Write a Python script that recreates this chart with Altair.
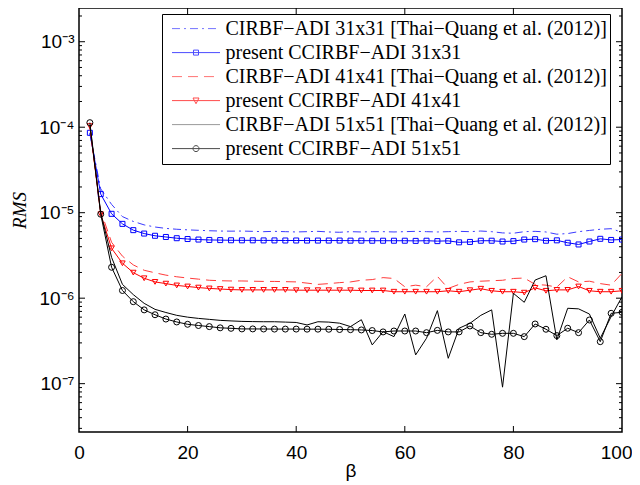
import altair as alt
import pandas as pd

# ---------------- data ----------------
beta = [2, 4, 6, 8, 10, 12, 14, 16, 18, 20,
        22, 24, 26, 28, 30, 32, 34, 36, 38, 40,
        42, 44, 46, 48, 50, 52, 54, 56, 58, 60,
        62, 64, 66, 68, 70, 72, 74, 76, 78, 80,
        82, 84, 86, 88, 90, 92, 94, 96, 98, 100]

# values in units of 1e-6
cirbf_31_e6 = [84, 19, 12.5, 9.0, 7.9, 7.2, 6.8, 6.55, 6.4, 6.3,
               6.22, 6.15, 6.1, 6.08, 6.1, 6.05, 6.0, 6.05, 6.0, 5.95,
               6.0, 6.05, 5.95, 5.9, 6.0, 5.95, 6.0, 6.0, 5.95, 6.0,
               6.05, 6.0, 5.95, 6.0, 6.05, 6.0, 6.1, 6.0, 5.8, 5.75,
               6.0, 6.05, 5.95, 5.6, 5.7, 6.0, 6.2, 6.4, 6.5, 5.9]
present_31_e6 = [86, 16.5, 9.7, 7.4, 6.25, 5.7, 5.37, 5.2, 5.03, 4.92,
                 4.85, 4.8, 4.78, 4.76, 4.75, 4.75, 4.74, 4.74, 4.73, 4.73,
                 4.72, 4.72, 4.72, 4.72, 4.71, 4.71, 4.7, 4.7, 4.7, 4.7,
                 4.68, 4.7, 4.65, 4.68, 4.5, 4.55, 4.7, 4.7, 4.6, 4.65,
                 4.85, 4.9, 4.7, 4.75, 4.45, 4.25, 4.6, 4.95, 4.8, 4.85]
cirbf_41_e6 = [100, 10.5, 4.5, 3.1, 2.45, 2.12, 1.98, 1.86, 1.78, 1.72,
               1.67, 1.62, 1.60, 1.59, 1.59, 1.58, 1.57, 1.57, 1.56, 1.55,
               1.50, 1.45, 1.48, 1.52, 1.55, 1.62, 1.65, 1.74, 1.70, 1.36,
               1.42, 1.36, 1.80, 1.30, 1.45, 1.55, 1.58, 1.60, 1.62, 1.70,
               1.72, 1.45, 1.42, 1.35, 1.78, 1.55, 1.58, 1.48, 1.42, 1.95]
present_41_e6 = [103, 9.6, 3.83, 2.56, 1.99, 1.71, 1.55, 1.48, 1.41, 1.37,
                 1.33, 1.30, 1.28, 1.26, 1.25, 1.25, 1.25, 1.25, 1.25, 1.24,
                 1.24, 1.24, 1.24, 1.24, 1.24, 1.23, 1.23, 1.23, 1.19, 1.19,
                 1.19, 1.19, 1.19, 1.22, 1.19, 1.24, 1.29, 1.22, 1.19, 1.19,
                 1.16, 1.32, 1.22, 1.25, 1.25, 1.37, 1.22, 1.19, 1.19, 1.22]
# values in units of 1e-7
cirbf_51_e7 = [1050, 100, 30, 14.5, 11, 8.7, 7.4, 6.8, 6.3, 6.0,
               5.8, 5.65, 5.5, 5.42, 5.35, 5.32, 5.3, 5.3, 5.25, 5.2,
               4.86, 5.3, 5.25, 5.1, 4.65, 5.6, 2.84, 4.06, 3.55, 6.53,
               2.17, 3.4, 7.15, 1.98, 4.45, 5.08, 6.3, 7.3, 0.91, 11.4,
               8.95, 16.3, 18.3, 3.25, 7.62, 7.5, 6.53, 3.4, 6.08, 10.4]
present_51_e7 = [1130, 96, 23, 12.3, 9.1, 7.3, 6.4, 5.7, 5.27, 4.95,
                 4.79, 4.65, 4.5, 4.44, 4.37, 4.37, 4.36, 4.35, 4.35, 4.35,
                 4.34, 4.34, 4.33, 4.3, 4.28, 4.25, 4.18, 4.03, 4.13, 4.13,
                 4.13, 3.95, 4.2, 4.03, 4.03, 4.73, 3.95, 3.78, 3.88, 3.88,
                 3.55, 4.99, 4.33, 3.65, 4.45, 3.95, 5.56, 3.10, 6.65, 6.84]

names = ["CIRBF\u2212ADI 31x31 [Thai\u2212Quang et al. (2012)]",
         "present CCIRBF\u2212ADI 31x31",
         "CIRBF\u2212ADI 41x41 [Thai\u2212Quang et al. (2012)]",
         "present CCIRBF\u2212ADI 41x41",
         "CIRBF\u2212ADI 51x51 [Thai\u2212Quang et al. (2012)]",
         "present CCIRBF\u2212ADI 51x51"]

x_ticks = [0, 20, 40, 60, 80, 100]
y_ticks = [1e-7, 1e-6, 1e-5, 1e-4, 1e-3]
y_minor = [k * 10.0 ** d for d in range(-8, -2) for k in range(2, 10)
           if 2.72e-8 < k * 10.0 ** d < 2.48e-3]

values = [[v * 1e-6 for v in cirbf_31_e6],
          [v * 1e-6 for v in present_31_e6],
          [v * 1e-6 for v in cirbf_41_e6],
          [v * 1e-6 for v in present_41_e6],
          [v * 1e-7 for v in cirbf_51_e7],
          [v * 1e-7 for v in present_51_e7]]

# ---------------- styles ----------------
line_colors = ["#3a3aff", "#0000ff", "#ff3a3a", "#ff0000", "#000000", "#000000"]
legend_colors = ["#3a3aff", "#0000ff", "#ff3a3a", "#ff0000", "#707070", "#000000"]
dashes = [[8, 4, 2, 4], None, [10, 6], None, None, None]
markers = [None, "square", None, "triangle-down", None, "circle"]
marker_sizes = [0, 25, 0, 30, 0, 36]

W, H = 543, 424
HALF = 24.0


def line_path(pattern):
    if pattern is None:
        return "M-1,0H1"
    parts, pos, i = [], -HALF, 0
    while pos < HALF - 1e-9:
        end = min(pos + pattern[i % len(pattern)], HALF)
        if i % 2 == 0:
            parts.append("M%.4f,0H%.4f" % (pos / HALF, end / HALF))
        pos, i = end, i + 1
    return "".join(parts)


def marker_path(m):
    if m == "square":
        s = 2.5 / HALF
        return "M%.4f,%.4fH%.4fV%.4fH%.4fZ" % (-s, -s, s, s, -s)
    if m == "triangle-down":
        a, b = 3.0 / HALF, 2.6 / HALF
        return "M%.4f,%.4fL%.4f,%.4fL0,%.4fZ" % (-a, -b, a, -b, b * 1.2)
    if m == "circle":
        r = 3.0 / HALF
        return "M%.4f,0A%.4f,%.4f 0 1,1 %.4f,0A%.4f,%.4f 0 1,1 %.4f,0Z" % (r, r, r, -r, r, r, r)
    return ""


legend_paths = [line_path(d) + marker_path(m) for d, m in zip(dashes, markers)]

rows = []
for n, vals in zip(names, values):
    for b, v in zip(beta, vals):
        rows.append({"beta": b, "rms": v, "series": n})
df = pd.DataFrame(rows)

xscale = alt.Scale(domain=[0, 100], nice=False, zero=False)
yscale = alt.Scale(type="log", domain=[2.72e-8, 2.48e-3], nice=False)

sup_expr = ("'10' + (round(log(datum.value)/LN10) == -3 ? '\u207b\u00b3' : "
            "round(log(datum.value)/LN10) == -4 ? '\u207b\u2074' : "
            "round(log(datum.value)/LN10) == -5 ? '\u207b\u2075' : "
            "round(log(datum.value)/LN10) == -6 ? '\u207b\u2076' : '\u207b\u2077')")

x_axis = alt.Axis(values=x_ticks, ticks=False, domain=False, grid=False,
                  labelFlush=False, labelOverlap=False,
                  labelAlign={"condition": {"test": "datum.value >= 100", "value": "right"},
                              "value": "center"},
                  labelOffset={"condition": {"test": "datum.value >= 100", "value": 10},
                               "value": 0},
                  labelFont="Liberation Sans", labelFontSize=19, labelColor="black",
                  labelPadding=11, title="\u03b2", titleFont="Liberation Sans",
                  titleFontSize=19, titleFontWeight="normal", titleColor="black",
                  titleY=38, titleBaseline="middle")
y_axis = alt.Axis(values=y_ticks, ticks=False, domain=False, grid=False,
                  labelFlush=False, labelOverlap=False,
                  labelExpr=sup_expr, labelFont="Liberation Sans", labelFontSize=19,
                  labelColor="black", labelPadding=5,
                  title="RMS", titleFont="Liberation Serif", titleFontStyle="italic",
                  titleFontSize=19, titleFontWeight="normal", titleColor="black",
                  titleX=-60, titleY=202, titleBaseline="middle", titleAngle=-90)

X = lambda f: alt.X(f, scale=xscale, axis=x_axis)
Y = lambda f: alt.Y(f, scale=yscale, axis=y_axis)

layers = []
for i, n in enumerate(names):
    props = dict(color=line_colors[i], strokeWidth=1, clip=True)
    if dashes[i] is not None:
        props["strokeDash"] = dashes[i]
    layers.append(
        alt.Chart(df).transform_filter(alt.datum.series == n).mark_line(**props).encode(
            x=X("beta:Q"), y=Y("rms:Q"))
    )
    if markers[i]:
        layers.append(
            alt.Chart(df).transform_filter(alt.datum.series == n).mark_point(
                shape=markers[i], filled=False, color=line_colors[i],
                size=marker_sizes[i], strokeWidth=1, opacity=1, clip=True).encode(
                x=X("beta:Q"), y=Y("rms:Q"))
        )

legend = alt.Legend(title=None, orient="none", legendX=83, legendY=6, padding=3,
                    strokeColor="black", fillColor="white",
                    symbolSize=2304, symbolStrokeWidth=1, clipHeight=23.2,
                    rowPadding=0, symbolOffset=6.5, labelOffset=5,
                    labelFont="Liberation Serif", labelFontSize=20,
                    labelColor="black", labelLimit=700, symbolFillColor="transparent")

legend_df = pd.DataFrame({"series": names, "beta": [50] * 6, "rms": [1e-14] * 6})
layers.append(
    alt.Chart(legend_df).mark_point(filled=False, clip=True, size=0.0001).encode(
        x=X("beta:Q"), y=Y("rms:Q"),
        color=alt.Color("series:N", scale=alt.Scale(domain=names, range=legend_colors),
                        legend=legend),
        shape=alt.Shape("series:N", scale=alt.Scale(domain=names, range=legend_paths),
                        legend=legend),
    )
)

# inward ticks on all four sides
xt = pd.DataFrame({"beta": x_ticks[1:-1]})
yt = pd.DataFrame({"rms": y_ticks})
ym = pd.DataFrame({"rms": y_minor})
tick = dict(color="black", strokeWidth=1)
layers += [
    alt.Chart(xt).mark_rule(**tick).encode(x=X("beta:Q"), y=alt.value(H), y2=alt.value(H - 6)),
    alt.Chart(xt).mark_rule(**tick).encode(x=X("beta:Q"), y=alt.value(0), y2=alt.value(6)),
    alt.Chart(yt).mark_rule(**tick).encode(y=Y("rms:Q"), x=alt.value(0), x2=alt.value(6)),
    alt.Chart(yt).mark_rule(**tick).encode(y=Y("rms:Q"), x=alt.value(W), x2=alt.value(W - 6)),
    alt.Chart(ym).mark_rule(**tick).encode(y=Y("rms:Q"), x=alt.value(0), x2=alt.value(3)),
    alt.Chart(ym).mark_rule(**tick).encode(y=Y("rms:Q"), x=alt.value(W), x2=alt.value(W - 3)),
]

chart = alt.layer(*layers).properties(
    width=W, height=H,
    autosize=alt.AutoSizeParams(type="none"),
    padding={"left": 71, "top": 0, "right": 10, "bottom": 53},
    background="white",
).configure_view(stroke="black", strokeWidth=1.5)

chart.save("out.html", embed_options={"renderer": "svg", "actions": False})
